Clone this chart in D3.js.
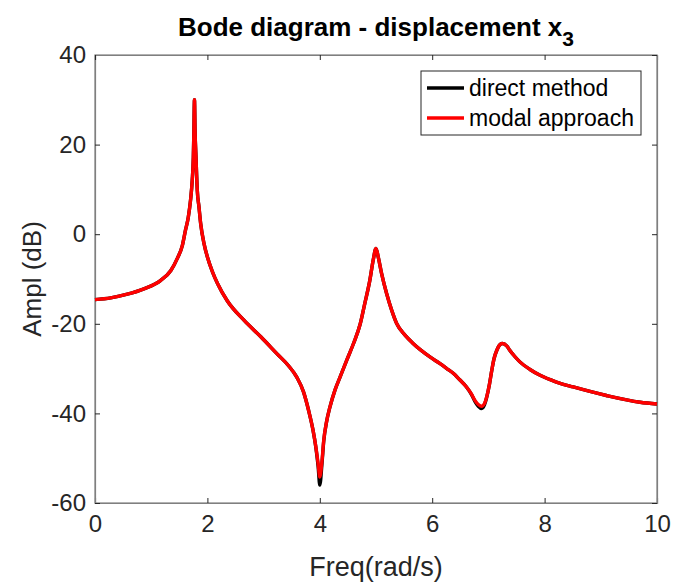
<!DOCTYPE html>
<html>
<head>
<meta charset="utf-8">
<script src="https://cdn.jsdelivr.net/npm/d3@7"></script>
<style>
  body { margin: 0; background: #fff; }
  text { font-family: "Liberation Sans", Arial, sans-serif; }
</style>
</head>
<body>
<svg id="chart" width="673" height="585"></svg>
<script>
// values
const freq = [0, 0.28, 0.575, 0.87, 1.17, 1.35, 1.465, 1.555, 1.61, 1.66, 1.70, 1.73, 1.75, 1.76, 1.77,
  1.78, 1.797, 1.82, 1.85, 1.88, 1.94, 2.00, 2.09, 2.18, 2.35, 2.65, 2.95, 3.24, 3.44, 3.59, 3.71, 3.80,
  3.88, 3.93, 3.97, 4.00, 4.04, 4.07, 4.12, 4.18, 4.27, 4.36, 4.48, 4.60, 4.72, 4.80, 4.89, 4.95, 5.00,
  5.04, 5.10, 5.19, 5.28, 5.37, 5.52, 5.66, 5.96, 6.14, 6.26, 6.38, 6.49, 6.61, 6.70, 6.76, 6.82, 6.88,
  6.93, 6.97, 7.02, 7.06, 7.10, 7.15, 7.21, 7.25, 7.33, 7.38, 7.47, 7.56, 7.74, 7.92, 8.21, 8.51, 9.10,
  9.70, 10];
const directDb = [-14.6, -14.2, -13.4, -12.2, -10.3, -8.1, -5.4, -2.5, 0.9, 3.8, 7.6, 12.0, 17.2, 23.2, 30,
  23.2, 17.2, 9.8, 6.1, 2.4, -2.1, -5.1, -8.4, -11.0, -14.8, -19.2, -22.9, -26.7, -29.3, -31.9, -35.2, -39.3,
  -43.8, -47.6, -51.8, -56.0, -51.0, -46.2, -41.9, -38.6, -34.8, -31.9, -28.1, -24.4, -20.0, -15.5, -10.3, -5.8, -3.2,
  -5.1, -8.8, -13.3, -17.0, -20.0, -22.6, -24.4, -27.4, -28.9, -30.0, -31.1, -32.5, -34.1, -35.8, -37.3, -38.4, -38.9,
  -38.1, -36.4, -33.4, -30.4, -27.8, -25.9, -24.6, -24.4, -25.0, -25.9, -27.3, -28.5, -30.2, -31.5, -33.0, -34.1, -36.0,
  -37.5, -37.9];
const modalDb = [-14.6, -14.2, -13.4, -12.2, -10.3, -8.1, -5.4, -2.5, 0.9, 3.8, 7.6, 12.0, 17.2, 23.2, 30,
  23.2, 17.2, 9.8, 6.1, 2.4, -2.1, -5.1, -8.4, -11.0, -14.8, -19.2, -22.9, -26.7, -29.3, -31.9, -35.2, -39.3,
  -43.8, -47.5, -51.2, -54.2, -50.5, -46.0, -41.9, -38.6, -34.8, -31.9, -28.1, -24.4, -20.0, -15.5, -10.3, -5.8, -3.2,
  -5.1, -8.8, -13.3, -17.0, -20.0, -22.6, -24.4, -27.4, -28.9, -30.0, -31.1, -32.5, -34.1, -35.7, -37.1, -38.0, -38.4,
  -37.8, -36.3, -33.4, -30.4, -27.8, -25.9, -24.6, -24.4, -25.0, -25.9, -27.3, -28.5, -30.2, -31.5, -33.0, -34.1, -36.0,
  -37.5, -37.9];
const xTicks = [0, 2, 4, 6, 8, 10];
const yTicks = [-60, -40, -20, 0, 20, 40];
const seriesNames = ['direct method', 'modal approach'];
const seriesColors = ['#000000', '#ff0000'];

const margin = {left: 95, right: 16, top: 55, bottom: 82};
const W = 673, H = 585;
const svg = d3.select('#chart');

const x = d3.scaleLinear().domain([0, 10]).range([margin.left, W - margin.right]);
const y = d3.scaleLinear().domain([-60, 40]).range([H - margin.bottom, margin.top]);

const axisColor = '#262626';
const tickLen = 5;
const plainNum = d => String(d); // matlab style hyphen minus

// box
svg.append('rect')
  .attr('x', x(0)).attr('y', y(40))
  .attr('width', x(10) - x(0)).attr('height', y(-60) - y(40))
  .attr('fill', 'none').attr('stroke', '#7f7f7f').attr('stroke-width', 1.2);

// bottom and left axes with inward ticks
svg.append('g').attr('transform', `translate(0,${y(-60)})`)
  .call(d3.axisBottom(x).tickValues(xTicks).tickSize(-tickLen).tickPadding(12).tickFormat(plainNum));
svg.append('g').attr('transform', `translate(${x(0)},0)`)
  .call(d3.axisLeft(y).tickValues(yTicks).tickSize(-tickLen).tickPadding(9).tickFormat(plainNum));
// top and right: ticks only
svg.append('g').attr('transform', `translate(0,${y(40)})`)
  .call(d3.axisTop(x).tickValues(xTicks).tickSize(-tickLen).tickFormat(''));
svg.append('g').attr('transform', `translate(${x(10)},0)`)
  .call(d3.axisRight(y).tickValues(yTicks).tickSize(-tickLen).tickFormat(''));

svg.selectAll('.domain').attr('stroke', '#7f7f7f').attr('stroke-width', 1.2);
svg.selectAll('.tick line').attr('stroke', axisColor);
svg.selectAll('.tick text').attr('fill', axisColor).attr('font-size', 24)
  .attr('font-family', '"Liberation Sans", Arial, sans-serif');

// curves
const rows = freq.map((f, i) => ({f, a: directDb[i], b: modalDb[i]}));
const lineA = d3.line().x(d => x(d.f)).y(d => y(d.a)).curve(d3.curveMonotoneX);
const lineB = d3.line().x(d => x(d.f)).y(d => y(d.b)).curve(d3.curveMonotoneX);
svg.append('path').datum(rows).attr('d', lineA)
  .attr('fill', 'none').attr('stroke', seriesColors[0]).attr('stroke-width', 3.4)
  .attr('stroke-linejoin', 'round');
svg.append('path').datum(rows).attr('d', lineB)
  .attr('fill', 'none').attr('stroke', seriesColors[1]).attr('stroke-width', 3.4)
  .attr('stroke-linejoin', 'round');

// title
const title = svg.append('text').attr('x', (x(0) + x(10)) / 2).attr('y', 36)
  .attr('text-anchor', 'middle').attr('font-size', 26).attr('font-weight', 'bold').attr('fill', '#000');
title.append('tspan').text('Bode diagram - displacement x');
title.append('tspan').attr('dy', 10).attr('font-size', 21).text('3');

// axis labels
svg.append('text').attr('x', (x(0) + x(10)) / 2).attr('y', 576)
  .attr('text-anchor', 'middle').attr('font-size', 27).attr('fill', axisColor).text('Freq(rad/s)');
svg.append('text').attr('transform', `translate(41,${(y(40) + y(-60)) / 2}) rotate(-90)`)
  .attr('text-anchor', 'middle').attr('font-size', 26).attr('fill', axisColor).text('Ampl (dB)');

// legend
const lg = svg.append('g').attr('transform', 'translate(421,71)');
lg.append('rect').attr('width', 220).attr('height', 64)
  .attr('fill', '#fff').attr('stroke', axisColor).attr('stroke-width', 1);
seriesNames.forEach((name, i) => {
  const cy = 17 + i * 30;
  lg.append('line').attr('x1', 6).attr('x2', 43).attr('y1', cy).attr('y2', cy)
    .attr('stroke', seriesColors[i]).attr('stroke-width', 3.4);
  lg.append('text').attr('x', 48).attr('y', cy + 8).attr('font-size', 23)
    .attr('fill', '#000').text(name);
});
</script>
</body>
</html>
